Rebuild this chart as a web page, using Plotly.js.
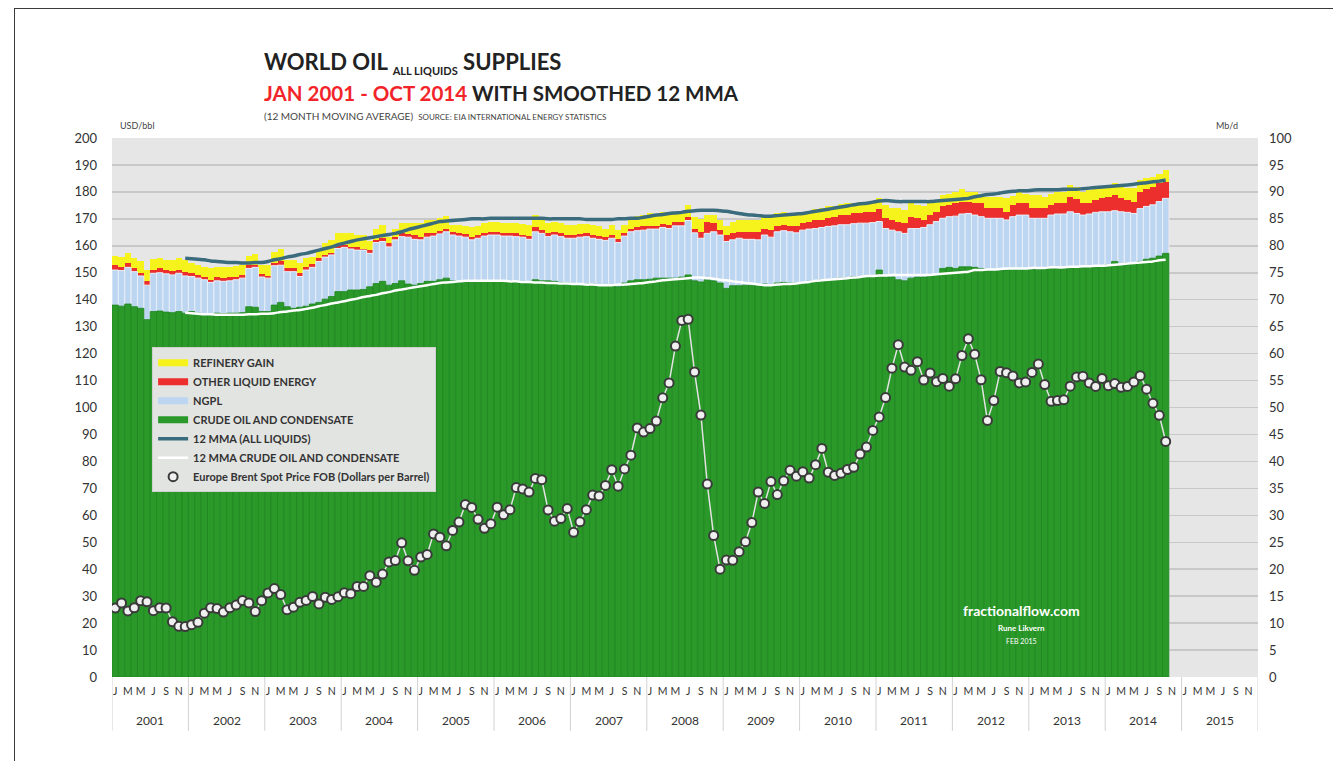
<!DOCTYPE html>
<html>
<head>
<meta charset="utf-8">
<script src="https://cdn.plot.ly/plotly-3.0.1.min.js"></script>
<style>
  html, body { margin: 0; padding: 0; background: #fff; }
  #chart { width: 1333px; height: 761px; }
  #frame { position: absolute; left: 14px; top: 8px; width: 1319px; height: 753px;
           border-top: 1px solid #3a3a3a; border-left: 1px solid #3a3a3a; pointer-events: none; }
</style>
</head>
<body>
<div id="chart"></div>
<div id="frame"></div>
<script>
// ---------------- DATA ----------------
const years = [2001, 2002, 2003, 2004, 2005, 2006, 2007, 2008, 2009, 2010, 2011, 2012, 2013, 2014, 2015];
const tickMonthIdx = [0, 2, 4, 6, 8, 10];
const tickLetters = ['J', 'M', 'M', 'J', 'S', 'N'];

// Supply levels, Mb/d (Jan 2001 - Oct 2014)
const crudeOil = [
  69.0, 68.8, 69.2, 68.7, 68.4, 66.3, 67.8, 67.9, 67.7, 67.6, 67.8, 67.5,
  67.8, 67.5, 67.4, 67.2, 67.5, 67.4, 67.5, 67.5, 67.6, 68.7, 68.6, 67.8,
  67.8, 69.0, 69.5, 68.7, 68.4, 68.6, 68.8, 69.2, 69.5, 70.1, 70.6, 71.5,
  71.5, 71.8, 71.8, 71.9, 72.4, 73.0, 73.4, 72.7, 73.0, 73.5, 72.9, 72.7,
  73.0, 73.4, 73.4, 73.7, 74.0, 73.5, 73.4, 73.4, 73.2, 73.4, 73.5, 73.5,
  73.5, 73.5, 73.5, 73.4, 73.4, 73.2, 73.7, 73.5, 73.5, 73.4, 73.2, 73.1,
  72.9, 72.9, 72.9, 72.9, 72.7, 72.6, 72.7, 72.4, 73.1, 73.5, 73.7, 73.7,
  73.8, 74.0, 74.0, 74.0, 74.0, 74.2, 74.6, 73.5, 73.3, 73.7, 73.5, 73.1,
  72.1, 72.6, 72.6, 72.7, 72.7, 72.7, 72.9, 72.7, 73.1, 73.2, 73.1, 73.1,
  73.2, 73.4, 73.5, 73.7, 73.7, 73.8, 74.0, 74.1, 74.3, 74.3, 74.4, 74.4,
  75.5, 74.3, 74.2, 73.7, 73.5, 74.0, 74.2, 74.2, 74.4, 74.6, 75.8, 76.0,
  75.8, 76.1, 76.1, 76.0, 75.8, 75.5, 75.4, 75.4, 75.5, 75.6, 75.6, 75.6,
  75.6, 75.6, 75.7, 75.8, 75.8, 75.8, 76.0, 76.0, 76.0, 76.1, 76.1, 76.3,
  76.5, 77.1, 76.6, 76.8, 76.8, 77.1, 77.5, 77.7, 78.1, 78.6
];
const crudePlusNgpl = [
  75.5, 75.4, 76.0, 75.2, 74.4, 72.7, 74.9, 75.0, 74.8, 74.6, 74.9, 74.4,
  74.3, 74.0, 73.7, 73.2, 73.5, 73.4, 73.5, 73.7, 74.0, 75.8, 76.0, 74.2,
  74.0, 76.3, 76.4, 75.2, 75.2, 74.3, 75.5, 76.0, 77.1, 77.9, 78.3, 79.5,
  79.7, 79.4, 79.2, 79.2, 78.6, 80.6, 80.8, 79.8, 81.1, 81.7, 81.6, 81.2,
  81.1, 81.6, 81.8, 82.2, 82.6, 82.0, 81.8, 81.6, 81.1, 81.4, 81.8, 82.0,
  82.0, 81.8, 81.8, 81.7, 81.6, 81.2, 82.6, 82.3, 81.7, 82.0, 81.7, 81.4,
  81.4, 81.6, 81.7, 81.4, 81.2, 81.0, 81.4, 80.6, 81.8, 82.6, 82.8, 82.9,
  83.1, 83.1, 83.4, 83.2, 83.7, 83.7, 84.7, 82.4, 81.4, 82.3, 82.6, 82.0,
  80.8, 81.1, 81.4, 81.2, 81.2, 81.1, 82.0, 81.6, 82.6, 82.8, 82.6, 82.4,
  82.9, 83.1, 83.2, 83.4, 83.6, 83.7, 83.9, 83.9, 84.1, 84.2, 84.2, 84.3,
  84.5, 83.2, 82.9, 82.6, 82.3, 83.2, 83.2, 83.4, 83.9, 84.5, 85.1, 85.4,
  85.5, 85.9, 86.0, 85.7, 85.4, 85.1, 85.1, 85.1, 84.8, 85.4, 85.7, 85.7,
  85.1, 85.1, 85.1, 85.7, 85.9, 85.9, 86.3, 86.0, 85.7, 85.9, 86.2, 86.3,
  86.3, 86.5, 86.3, 86.2, 86.0, 86.9, 87.3, 87.6, 88.2, 88.8
];
const liquidsExRefineryGain = [
  76.4, 76.1, 76.9, 75.8, 75.0, 73.5, 75.6, 75.8, 75.5, 75.4, 75.6, 75.2,
  74.9, 74.6, 74.3, 73.7, 74.2, 74.0, 74.2, 74.3, 74.6, 76.4, 76.4, 74.8,
  74.4, 76.8, 77.1, 75.8, 75.8, 74.9, 76.1, 76.6, 77.7, 78.3, 78.7, 80.2,
  80.2, 79.8, 79.8, 79.5, 79.2, 81.1, 81.4, 80.5, 81.7, 82.3, 82.2, 82.0,
  81.7, 82.3, 82.4, 82.8, 83.2, 82.6, 82.3, 82.2, 81.7, 82.0, 82.4, 82.6,
  82.6, 82.3, 82.4, 82.3, 82.0, 81.8, 83.4, 82.9, 82.3, 82.6, 82.3, 82.0,
  82.0, 82.2, 82.3, 82.0, 81.8, 81.6, 82.0, 81.2, 82.4, 83.2, 83.4, 83.6,
  83.7, 83.7, 84.1, 83.9, 84.5, 84.5, 85.4, 83.2, 82.6, 84.5, 84.3, 82.9,
  82.0, 82.4, 82.6, 82.6, 82.6, 82.6, 83.2, 82.9, 83.7, 83.9, 83.7, 83.6,
  84.2, 84.5, 84.8, 84.8, 85.1, 85.4, 85.7, 85.7, 86.0, 86.0, 86.2, 86.3,
  86.8, 85.1, 84.7, 84.5, 84.2, 85.4, 85.1, 84.8, 85.7, 86.3, 87.4, 87.6,
  87.9, 88.2, 88.2, 88.0, 87.9, 87.1, 87.1, 87.0, 86.3, 87.6, 88.0, 87.9,
  87.1, 87.1, 87.0, 87.6, 87.9, 87.9, 89.1, 88.6, 87.9, 87.9, 88.5, 88.8,
  89.1, 89.4, 88.8, 88.5, 88.2, 90.0, 90.5, 91.0, 91.6, 91.9
];
const allLiquids = [
  78.1, 78.0, 78.7, 77.7, 77.1, 75.5, 77.5, 77.7, 77.4, 77.4, 77.7, 77.4,
  76.8, 76.4, 76.1, 75.8, 76.1, 76.0, 76.1, 76.3, 76.4, 78.1, 78.5, 76.4,
  76.4, 78.9, 79.5, 77.4, 77.4, 76.8, 77.7, 78.0, 79.2, 80.5, 81.1, 82.3,
  82.3, 82.3, 82.0, 82.0, 80.8, 83.2, 83.9, 81.7, 83.2, 84.3, 84.3, 84.3,
  84.2, 84.7, 84.8, 85.1, 85.5, 83.9, 83.9, 83.7, 83.4, 83.7, 84.3, 84.5,
  84.5, 84.3, 84.3, 84.2, 84.1, 83.9, 85.7, 85.4, 84.3, 84.5, 84.3, 83.9,
  83.9, 84.1, 84.1, 83.9, 83.7, 83.2, 83.9, 82.9, 83.9, 85.4, 85.5, 85.7,
  86.0, 85.9, 86.2, 85.9, 86.3, 86.5, 87.6, 85.4, 84.9, 85.7, 85.7, 84.8,
  83.6, 84.5, 84.8, 84.7, 84.8, 84.7, 85.7, 85.4, 86.0, 86.3, 86.0, 85.9,
  86.3, 86.5, 86.8, 87.1, 87.3, 87.4, 87.8, 87.9, 87.9, 88.2, 88.0, 88.2,
  88.8, 87.6, 87.0, 87.0, 86.6, 87.9, 87.6, 87.3, 87.9, 88.5, 89.4, 89.7,
  89.9, 90.5, 90.0, 90.0, 89.7, 89.1, 89.1, 89.1, 88.8, 89.2, 89.9, 89.7,
  89.4, 89.4, 89.1, 89.7, 89.9, 90.0, 91.3, 91.0, 90.0, 90.4, 91.0, 90.9,
  91.3, 91.6, 90.9, 90.7, 90.7, 92.2, 92.5, 92.8, 93.3, 94.1
];

// 12 month moving averages (Mb/d), first value Dec 2001
const mmaAllLiquids = [
  null, null, null, null, null, null, null, null, null, null, null, 77.7,
  77.6, 77.5, 77.4, 77.2, 77.1, 77.0, 76.9, 76.9, 76.8, 76.8, 76.9, 76.9,
  77.1, 77.4, 77.6, 77.9, 78.1, 78.4, 78.6, 78.9, 79.2, 79.5, 79.8, 80.2,
  80.5, 80.8, 81.1, 81.3, 81.5, 81.7, 81.9, 82.1, 82.3, 82.6, 83.0, 83.3,
  83.6, 83.9, 84.2, 84.5, 84.6, 84.7, 84.8, 84.9, 85.0, 85.0, 85.0, 85.1,
  85.1, 85.1, 85.1, 85.1, 85.1, 85.1, 85.1, 85.1, 85.0, 85.0, 85.0, 85.0,
  85.0, 85.0, 84.9, 84.9, 84.9, 84.9, 84.9, 85.0, 85.0, 85.1, 85.1, 85.3,
  85.5, 85.7, 85.8, 86.0, 86.1, 86.2, 86.4, 86.5, 86.6, 86.6, 86.6, 86.5,
  86.4, 86.2, 86.0, 85.8, 85.7, 85.6, 85.5, 85.5, 85.6, 85.7, 85.8, 85.9,
  86.0, 86.2, 86.4, 86.6, 86.8, 87.0, 87.2, 87.4, 87.6, 87.8, 87.9, 88.1,
  88.3, 88.4, 88.3, 88.2, 88.2, 88.2, 88.2, 88.2, 88.2, 88.3, 88.4, 88.5,
  88.6, 88.7, 88.8, 89.1, 89.3, 89.5, 89.6, 89.8, 90.0, 90.1, 90.2, 90.2,
  90.3, 90.4, 90.4, 90.4, 90.4, 90.5, 90.5, 90.5, 90.6, 90.7, 90.8, 90.9,
  91.0, 91.1, 91.2, 91.3, 91.4, 91.6, 91.7, 91.9, 92.0, 92.2
];
const mmaCrudeOil = [
  null, null, null, null, null, null, null, null, null, null, null, 67.6,
  67.5, 67.4, 67.3, 67.3, 67.2, 67.2, 67.2, 67.2, 67.2, 67.3, 67.3, 67.4,
  67.4, 67.5, 67.7, 67.8, 68.0, 68.1, 68.3, 68.5, 68.8, 69.0, 69.3, 69.5,
  69.7, 70.0, 70.2, 70.5, 70.7, 70.9, 71.2, 71.4, 71.7, 71.9, 72.1, 72.3,
  72.5, 72.7, 72.9, 73.1, 73.2, 73.3, 73.4, 73.5, 73.5, 73.5, 73.5, 73.5,
  73.5, 73.5, 73.4, 73.4, 73.3, 73.3, 73.2, 73.2, 73.1, 73.1, 73.0, 73.0,
  72.9, 72.9, 72.8, 72.8, 72.7, 72.7, 72.7, 72.8, 72.8, 72.9, 73.0, 73.1,
  73.3, 73.4, 73.6, 73.7, 73.8, 73.9, 74.0, 74.1, 74.1, 74.0, 73.9, 73.7,
  73.6, 73.4, 73.3, 73.1, 73.0, 72.8, 72.7, 72.7, 72.8, 72.9, 72.9, 73.0,
  73.2, 73.3, 73.5, 73.6, 73.7, 73.8, 73.9, 74.0, 74.1, 74.2, 74.4, 74.4,
  74.5, 74.5, 74.6, 74.6, 74.6, 74.6, 74.6, 74.6, 74.6, 74.7, 74.8, 74.9,
  75.0, 75.1, 75.2, 75.5, 75.5, 75.6, 75.6, 75.7, 75.8, 75.8, 75.8, 75.8,
  75.9, 75.9, 75.9, 76.0, 76.0, 76.0, 76.1, 76.1, 76.2, 76.2, 76.3, 76.3,
  76.4, 76.5, 76.6, 76.7, 76.8, 76.9, 77.0, 77.1, 77.3, 77.4
];

// Europe Brent Spot Price FOB, USD/bbl
const brentPrice = [
  25.6, 27.5, 24.5, 25.7, 28.3, 27.9, 24.6, 25.7, 25.6, 20.5, 18.8, 18.7,
  19.4, 20.3, 23.7, 25.7, 25.4, 24.1, 25.7, 26.7, 28.4, 27.5, 24.3, 28.3,
  31.2, 32.8, 30.6, 25.0, 25.9, 27.7, 28.4, 29.9, 27.1, 29.6, 28.8, 29.8,
  31.3, 30.9, 33.6, 33.6, 37.6, 35.2, 38.2, 42.7, 43.2, 49.8, 43.1, 39.6,
  44.5, 45.5, 53.1, 51.9, 48.7, 54.4, 57.5, 64.0, 62.9, 58.5, 55.2, 56.9,
  63.0, 60.2, 62.1, 70.3, 69.8, 68.6, 73.7, 73.2, 62.0, 57.8, 58.8, 62.5,
  53.7, 57.6, 62.1, 67.5, 67.2, 71.1, 76.9, 70.8, 77.2, 82.3, 92.4, 90.9,
  92.2, 95.0, 103.6, 109.1, 122.8, 132.3, 132.7, 113.2, 97.2, 71.6, 52.5, 40.0,
  43.4, 43.3, 46.5, 50.2, 57.3, 68.6, 64.4, 72.5, 67.7, 72.8, 76.7, 74.5,
  76.2, 73.8, 78.8, 84.8, 76.0, 74.8, 75.6, 77.0, 77.8, 82.7, 85.3, 91.5,
  96.5, 103.7, 114.6, 123.3, 115.0, 113.8, 117.0, 110.2, 112.8, 109.6, 110.8, 107.9,
  110.7, 119.3, 125.5, 119.8, 110.3, 95.2, 102.6, 113.4, 112.9, 111.7, 109.1, 109.5,
  113.0, 116.1, 108.5, 102.3, 102.6, 102.9, 107.9, 111.3, 111.6, 109.1, 107.8, 110.8,
  108.1, 108.9, 107.5, 107.8, 109.5, 111.8, 106.8, 101.6, 97.1, 87.4
];

// ---------------- BUILD ----------------
const months = [];
years.forEach(y => { for (let m = 1; m <= 12; m++) months.push(y + '-' + String(m).padStart(2, '0')); });
const dataMonths = months.slice(0, brentPrice.length);

const tickvals = [], ticktext = [];
years.forEach((y, yi) => tickMonthIdx.forEach((mi, k) => { tickvals.push(months[yi * 12 + mi]); ticktext.push(tickLetters[k]); }));

const FONT = 'Lato, "Open Sans", "DejaVu Sans", sans-serif';
const YELLOW = '#f6f21c', RED = '#ec2f2c', BLUE = '#bcd5f0', GREEN = '#2a992a', TEAL = '#3b6c7e';

function barTrace(y, color, lineColor, lineWidth) {
  return { type: 'bar', x: dataMonths, y: y, showlegend: false, hoverinfo: 'skip',
           marker: { color: color, line: { color: lineColor, width: lineWidth } } };
}
function legendProxy(name, color) {
  return { type: 'scatter', mode: 'lines', x: [dataMonths[0]], y: [null], name: name,
           line: { color: color, width: 7 }, hoverinfo: 'skip' };
}

const traces = [
  barTrace(allLiquids, YELLOW, YELLOW, 0),
  barTrace(liquidsExRefineryGain, RED, RED, 0),
  barTrace(crudePlusNgpl, BLUE, '#e8f0fa', 1),
  barTrace(crudeOil, GREEN, '#1f861f', 0.8),
  legendProxy('REFINERY GAIN', YELLOW),
  legendProxy('OTHER LIQUID ENERGY', RED),
  legendProxy('NGPL', BLUE),
  legendProxy('CRUDE OIL AND CONDENSATE', GREEN),
  { type: 'scatter', mode: 'lines', x: dataMonths, y: mmaAllLiquids, name: '12 MMA (ALL LIQUIDS)',
    line: { color: TEAL, width: 3.5, shape: 'spline' }, connectgaps: false },
  { type: 'scatter', mode: 'lines', x: dataMonths, y: mmaCrudeOil, name: '12 MMA CRUDE OIL AND CONDENSATE',
    line: { color: '#ffffff', width: 2.5, shape: 'spline' } },
  { type: 'scatter', mode: 'lines+markers', x: dataMonths, y: brentPrice, yaxis: 'y2',
    name: 'Europe Brent Spot Price FOB (Dollars per Barrel)',
    line: { color: '#e2e2e2', width: 1.5 },
    marker: { symbol: 'circle', size: 9, color: '#f0f0f0', line: { color: '#3a3a3a', width: 2 } } }
];

const shapes = years.concat([years[years.length - 1] + 1]).map((y, i) => ({
  type: 'line', xref: 'x', yref: 'paper', x0: i * 12 - 0.5, x1: i * 12 - 0.5, y0: 0, y1: -0.1,
  line: { color: '#d2d2d2', width: 1 }
}));

const annotations = [];
years.forEach((y, i) => annotations.push({
  xref: 'x', yref: 'paper', x: i * 12 + 5.5, y: -0.08, text: String(y), showarrow: false,
  font: { family: FONT, size: 12, color: '#333' }, xanchor: 'center', yanchor: 'middle'
}));
annotations.push(
  { xref: 'paper', yref: 'paper', x: 0.1309, y: 1.141, xanchor: 'left', yanchor: 'middle', showarrow: false,
    text: '<b>WORLD OIL <sub><span style="font-size:11px">ALL LIQUIDS</span></sub> SUPPLIES</b>',
    font: { family: FONT, size: 22, color: '#222' } },
  { xref: 'paper', yref: 'paper', x: 0.1309, y: 1.0835, xanchor: 'left', yanchor: 'middle', showarrow: false,
    text: '<b><span style="color:#f2242a">JAN 2001 - OCT 2014</span> WITH SMOOTHED 12 MMA</b>',
    font: { family: FONT, size: 20.5, color: '#222' } },
  { xref: 'paper', yref: 'paper', x: 0.1309, y: 1.041, xanchor: 'left', yanchor: 'middle', showarrow: false,
    text: '(12 MONTH MOVING AVERAGE)  <span style="font-size:8px">SOURCE: EIA INTERNATIONAL ENERGY STATISTICS</span>',
    font: { family: FONT, size: 10, color: '#444' } },
  { xref: 'paper', yref: 'paper', x: 0.005, y: 1.024, xanchor: 'left', yanchor: 'middle', showarrow: false,
    text: 'USD/bbl', font: { family: FONT, size: 9, color: '#444' } },
  { xref: 'paper', yref: 'paper', x: 0.984, y: 1.024, xanchor: 'right', yanchor: 'middle', showarrow: false,
    text: 'Mb/d', font: { family: FONT, size: 9, color: '#444' } },
  { xref: 'paper', yref: 'paper', x: 0.794, y: 0.124, xanchor: 'center', yanchor: 'middle', showarrow: false,
    text: '<b>fractionalflow.com</b>', font: { family: FONT, size: 14, color: '#ffffff' } },
  { xref: 'paper', yref: 'paper', x: 0.794, y: 0.091, xanchor: 'center', yanchor: 'middle', showarrow: false,
    text: '<b>Rune Likvern</b>', font: { family: FONT, size: 8, color: '#ffffff' } },
  { xref: 'paper', yref: 'paper', x: 0.794, y: 0.066, xanchor: 'center', yanchor: 'middle', showarrow: false,
    text: 'FEB 2015', font: { family: FONT, size: 7, color: '#ffffff' } }
);

const layout = {
  width: 1333, height: 761,
  margin: { l: 112, r: 75, t: 138, b: 84, pad: 0 },
  paper_bgcolor: '#ffffff', plot_bgcolor: '#e6e6e6',
  barmode: 'overlay', bargap: 0,
  hovermode: false,
  font: { family: FONT, color: '#333' },
  xaxis: {
    type: 'category', categoryorder: 'array', categoryarray: months, range: [-0.5, months.length - 0.5],
    tickvals: tickvals, ticktext: ticktext, tickangle: 0, ticks: '', ticklabelstandoff: 6,
    tickfont: { family: FONT, size: 10.5, color: '#333' },
    showgrid: false, zeroline: false, showline: false, fixedrange: true
  },
  yaxis: {
    side: 'right', range: [0, 100], tick0: 0, dtick: 5, ticks: '', ticklabelstandoff: 10,
    showgrid: true, gridcolor: '#c8c8c8', gridwidth: 1.5, zeroline: false, showline: false,
    tickfont: { family: FONT, size: 13, color: '#333' }, fixedrange: true
  },
  yaxis2: {
    overlaying: 'y', side: 'left', range: [0, 200], tick0: 0, dtick: 10, ticks: '', ticklabelstandoff: 14,
    showgrid: false, zeroline: false, showline: false,
    tickfont: { family: FONT, size: 13, color: '#333' }, fixedrange: true
  },
  legend: {
    x: 0.035, y: 0.612, xanchor: 'left', yanchor: 'top', orientation: 'v',
    bgcolor: '#e2e4e2', bordercolor: '#d0d0d0', borderwidth: 1,
    font: { family: FONT, size: 11, color: '#333', weight: 'bold' }, itemwidth: 30, tracegroupgap: 0,
    traceorder: 'normal'
  },
  shapes: shapes,
  annotations: annotations
};

Plotly.newPlot('chart', traces, layout, { displayModeBar: false, staticPlot: true });
</script>
</body>
</html>
